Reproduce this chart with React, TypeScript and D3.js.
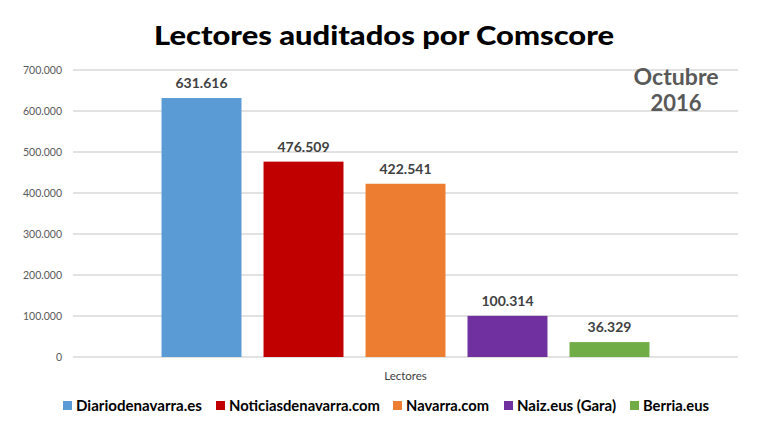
import React from "react";
import * as d3 from "d3";

const categories = ["Lectores"];
const series = ["Diariodenavarra.es", "Noticiasdenavarra.com", "Navarra.com", "Naiz.eus (Gara)", "Berria.eus"];
const values = [631616, 476509, 422541, 100314, 36329];
const colors = ["#5b9bd5", "#c00000", "#ed7d31", "#7030a0", "#70ad47"];
const yTicks = [0, 100000, 200000, 300000, 400000, 500000, 600000, 700000];
const legendX = [63, 216, 393, 504, 630];
const legendW = [126, 151, 83, 99, 66];

const W = 768, H = 431;
const FONT = "Lato, 'Open Sans', sans-serif";

const fmt = (v: number) => {
  if (v === 0) return "0";
  return d3.format(",")(v).replace(/,/g, ".");
};

export default function App() {
  const x0 = d3.scaleBand<string>().domain(categories).range([73, 738]).paddingInner(0).paddingOuter(0.152);
  const x1 = d3.scaleBand<string>().domain(series).range([0, x0.bandwidth()]).paddingInner(0.216).paddingOuter(0.108);
  const y = d3.scaleLinear().domain([0, 700000]).range([357, 70]);

  return (
    <svg width={W} height={H} style={{ position: "absolute", left: 0, top: 0, background: "#fff" }} fontFamily={FONT}>
      <rect x={0} y={0} width={W} height={H} fill="#fff" />
      <text x={384} y={45} textAnchor="middle" fontSize={27} fontWeight={900} fill="#000" textLength={460} lengthAdjust="spacingAndGlyphs">
        Lectores auditados por Comscore
      </text>
      {yTicks.map((t) => (
        <g key={t}>
          <line x1={73} x2={738} y1={y(t)} y2={y(t)} stroke="#d9d9d9" strokeWidth={1.3} />
          <text x={62} y={y(t) + 3.5} textAnchor="end" fontSize={10.5} fill="#595959">{fmt(t)}</text>
        </g>
      ))}
      {categories.map((c) => (
        <g key={c} transform={`translate(${x0(c)},0)`}>
          {series.map((s, i) => (
            <g key={s}>
              <rect x={x1(s)} y={y(values[i])} width={x1.bandwidth()} height={y(0) - y(values[i])} fill={colors[i]} />
              <text x={(x1(s) as number) + x1.bandwidth() / 2} y={y(values[i]) - 10} textAnchor="middle" fontSize={14} fontWeight={700} fill="#404040">
                {fmt(values[i])}
              </text>
            </g>
          ))}
        </g>
      ))}
      <text x={(x0(categories[0]) as number) + x0.bandwidth() / 2} y={380} textAnchor="middle" fontSize={11.5} fill="#404040">Lectores</text>
      <text x={676} y={85} textAnchor="middle" fontSize={22} fontWeight={700} fill="#595959" textLength={85} lengthAdjust="spacingAndGlyphs">Octubre</text>
      <text x={676} y={111} textAnchor="middle" fontSize={22} fontWeight={700} fill="#595959">2016</text>
      {series.map((s, i) => (
        <g key={s}>
          <rect x={legendX[i]} y={401} width={9} height={9} fill={colors[i]} />
          <text x={legendX[i] + 13} y={410.5} fontSize={14.5} fontWeight={700} fill="#000" textLength={legendW[i]} lengthAdjust="spacingAndGlyphs">{s}</text>
        </g>
      ))}
    </svg>
  );
}
